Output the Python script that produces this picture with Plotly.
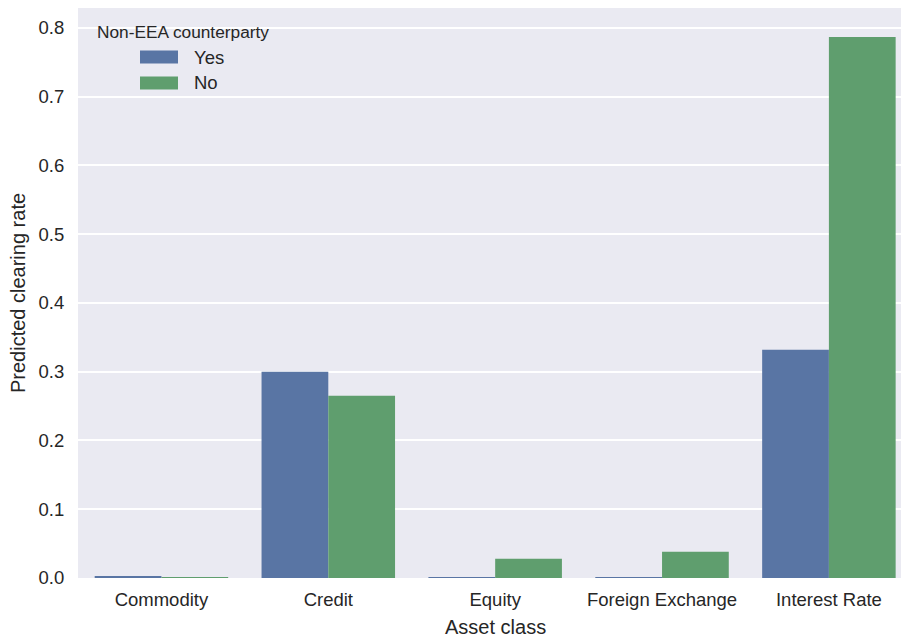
import plotly.graph_objects as go

asset_classes = ["Commodity", "Credit", "Equity", "Foreign Exchange", "Interest Rate"]
rate_yes = [0.0025, 0.300, 0.0012, 0.0012, 0.332]
rate_no = [0.0012, 0.265, 0.028, 0.038, 0.787]
y_ticks = [0.0, 0.1, 0.2, 0.3, 0.4, 0.5, 0.6, 0.7, 0.8]

BLUE = "#5975a4"
GREEN = "#5f9e6e"
TEXT = "#262626"
FONT = "Arial, Liberation Sans, sans-serif"

fig = go.Figure()
fig.add_trace(go.Bar(x=asset_classes, y=rate_yes, name="Yes",
                     marker=dict(color=BLUE, line_width=0)))
fig.add_trace(go.Bar(x=asset_classes, y=rate_no, name="No",
                     marker=dict(color=GREEN, line_width=0)))

# plot area in page pixels: x 78..909 (right part runs off the page), y 8..578
L, R, T, B = 78, 909, 8, 578
def px(xp):
    return (xp - L) / (R - L)
def py(yp):
    return (B - yp) / (B - T)

# legend drawn like matplotlib: title, then wide patches
shapes = []
annotations = [dict(text="Non-EEA counterparty", x=px(95), y=py(32),
                    xref="paper", yref="paper", xanchor="left", yanchor="middle",
                    showarrow=False, font=dict(size=17.3, color=TEXT, family=FONT))]
for name, color, yc in [("Yes", BLUE, 57), ("No", GREEN, 83)]:
    shapes.append(dict(type="rect", xref="paper", yref="paper",
                       x0=px(140), x1=px(178), y0=py(yc - 6.5), y1=py(yc + 6.5),
                       fillcolor=color, line_width=0, layer="above"))
    annotations.append(dict(text=name, x=px(192), y=py(yc), xref="paper", yref="paper",
                            xanchor="left", yanchor="middle", showarrow=False,
                            font=dict(size=18.5, color=TEXT, family=FONT)))

# x axis title sits centred on the 0..4 category span
annotations.append(dict(text="Asset class", x=2, y=py(626.5), xref="x", yref="paper",
                        xanchor="center", yanchor="middle", showarrow=False,
                        font=dict(size=20, color=TEXT, family=FONT)))

fig.update_layout(
    width=909, height=635,
    margin=dict(l=L, r=0, t=T, b=635 - B),
    paper_bgcolor="white",
    plot_bgcolor="#eaeaf2",
    font=dict(family=FONT, color=TEXT, size=18.5),
    barmode="group",
    bargap=0.2,
    bargroupgap=0,
    showlegend=False,
    shapes=shapes,
    annotations=annotations,
    xaxis=dict(
        range=[-0.5, 4.48],
        automargin=False,
        showgrid=False,
        zeroline=False,
        showline=False,
        ticks="outside", ticklen=5, tickcolor="rgba(0,0,0,0)",
        tickfont=dict(size=18.5),
    ),
    yaxis=dict(
        range=[0, 0.829],
        automargin=False,
        tickvals=y_ticks,
        tickformat=".1f",
        showgrid=True, gridcolor="white", gridwidth=1.6,
        zeroline=False,
        showline=False,
        ticks="outside", ticklen=9, tickcolor="rgba(0,0,0,0)",
        tickfont=dict(size=18.5),
        title=dict(text="Predicted clearing rate", font=dict(size=20), standoff=7),
    ),
)

fig.write_html("out.html", config={"displayModeBar": False},
               post_script="document.body.style.margin='0';document.body.style.overflow='hidden';")
